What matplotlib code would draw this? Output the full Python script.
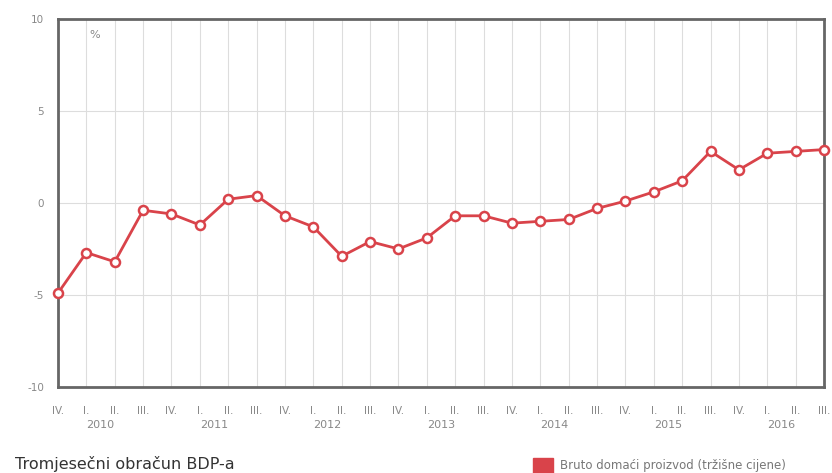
import matplotlib.pyplot as plt
import matplotlib.ticker as ticker

plt.rcParams['axes.unicode_minus'] = False

quarters = ['IV.', 'I.', 'II.', 'III.',
            'IV.', 'I.', 'II.', 'III.',
            'IV.', 'I.', 'II.', 'III.',
            'IV.', 'I.', 'II.', 'III.',
            'IV.', 'I.', 'II.', 'III.',
            'IV.', 'I.', 'II.', 'III.',
            'IV.', 'I.', 'II.', 'III.']
years = ['2010', '2011', '2012', '2013', '2014', '2015', '2016']
gdp = [-4.9, -2.7, -3.2, -0.4, -0.6, -1.2, 0.2, 0.4,
       -0.7, -1.3, -2.9, -2.1, -2.5, -1.9, -0.7, -0.7,
       -1.1, -1.0, -0.9, -0.3, 0.1, 0.6, 1.2, 2.8,
       1.8, 2.7, 2.8, 2.9]

red = '#d9434a'
x = list(range(len(gdp)))

fig = plt.figure(figsize=(8.32, 4.73), dpi=100)
ax = fig.add_axes([0.0697, 0.182, 0.9207, 0.778])

ax.plot(x, gdp, color=red, linewidth=2, marker='o', markersize=6.5,
        markerfacecolor='white', markeredgecolor=red, markeredgewidth=1.8,
        clip_on=False, zorder=3)

ax.set_xlim(0, len(gdp) - 1)
ax.set_ylim(-10, 10)

#  Grid
ax.yaxis.set_major_locator(ticker.MultipleLocator(5))
ax.set_xticks(x)
ax.set_xticklabels(quarters)
ax.grid(which='major', color='#dddddd', linewidth=0.8)
ax.set_axisbelow(True)

for s in ax.spines.values():
    s.set_color('#666666')
    s.set_linewidth(2)

ax.tick_params(axis='both', length=0, labelsize=7.5, labelcolor='#888888')
ax.tick_params(axis='x', pad=14)
ax.tick_params(axis='y', pad=10)

# year labels under the quarters
for i, yr in enumerate(years):
    ax.text(1.5 + 4 * i, -0.103, yr, transform=ax.get_xaxis_transform(),
            ha='center', va='center', fontsize=8, color='#888888')

ax.text(0.048, 0.955, '%', transform=ax.transAxes, fontsize=8,
        color='#888888', ha='center', va='center')

fig.text(0.018, 0.018, 'Tromjesečni obračun BDP-a', fontsize=11.5,
         color='#333333', ha='left', va='center')
fig.patches.append(plt.Rectangle((0.641, 0.0), 0.024, 0.032,
                                 transform=fig.transFigure, color=red))
fig.text(0.673, 0.016, 'Bruto domaći proizvod (tržišne cijene)', fontsize=8.5,
         color='#777777', ha='left', va='center')

fig.savefig('out.png', dpi=100)
